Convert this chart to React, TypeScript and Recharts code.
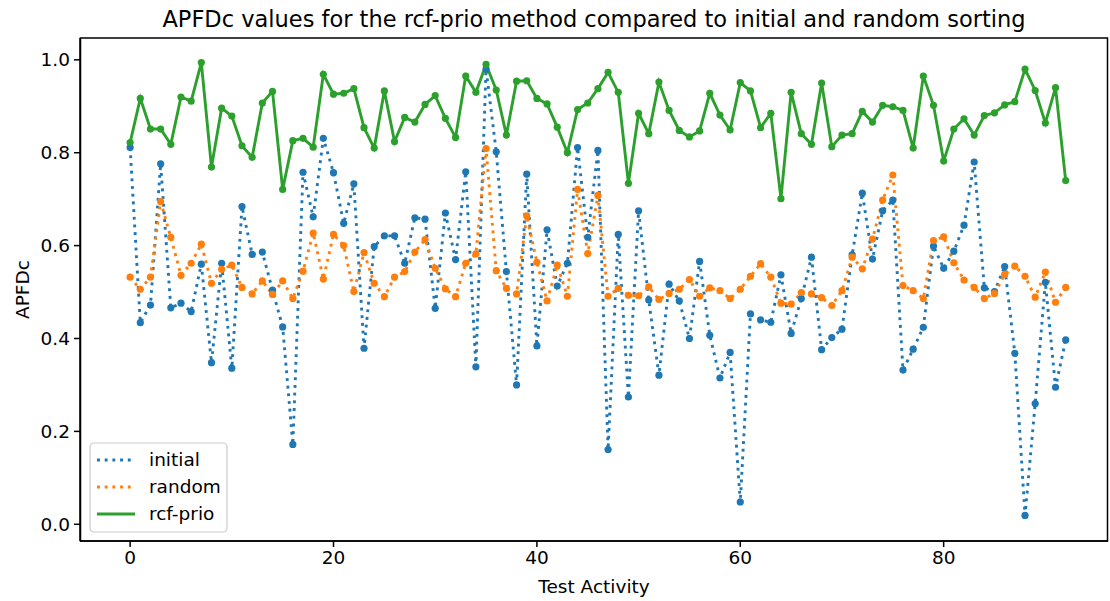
import { LineChart, Line, XAxis, YAxis, Customized } from "recharts";

// APFDc per test activity
const initial = [
  0.811, 0.434, 0.472, 0.776, 0.466, 0.476, 0.458, 0.56, 0.348, 0.562,
  0.336, 0.684, 0.581, 0.586, 0.504, 0.425, 0.172, 0.758, 0.662, 0.831,
  0.757, 0.648, 0.733, 0.379, 0.598, 0.621, 0.621, 0.562, 0.66, 0.657,
  0.465, 0.67, 0.57, 0.759, 0.339, 0.98, 0.802, 0.544, 0.3, 0.754,
  0.384, 0.634, 0.513, 0.562, 0.811, 0.618, 0.805, 0.161, 0.624, 0.274,
  0.675, 0.483, 0.321, 0.517, 0.481, 0.4, 0.566, 0.407, 0.315, 0.37,
  0.048, 0.453, 0.44, 0.435, 0.537, 0.411, 0.486, 0.575, 0.376, 0.402,
  0.42, 0.58, 0.713, 0.571, 0.675, 0.698, 0.332, 0.377, 0.424, 0.599,
  0.551, 0.588, 0.644, 0.78, 0.509, 0.501, 0.555, 0.368, 0.019, 0.26,
  0.521, 0.295, 0.397,
];

const random = [
  0.532, 0.506, 0.532, 0.695, 0.618, 0.536, 0.562, 0.603, 0.519, 0.549,
  0.558, 0.51, 0.496, 0.524, 0.495, 0.524, 0.486, 0.545, 0.627, 0.528,
  0.624, 0.6, 0.501, 0.585, 0.519, 0.49, 0.532, 0.544, 0.586, 0.613,
  0.551, 0.507, 0.49, 0.562, 0.582, 0.809, 0.546, 0.508, 0.496, 0.664,
  0.564, 0.481, 0.558, 0.491, 0.721, 0.583, 0.708, 0.491, 0.508, 0.493,
  0.492, 0.511, 0.484, 0.497, 0.506, 0.527, 0.491, 0.509, 0.503, 0.486,
  0.506, 0.534, 0.561, 0.532, 0.476, 0.474, 0.499, 0.496, 0.488, 0.471,
  0.503, 0.575, 0.55, 0.614, 0.698, 0.752, 0.514, 0.503, 0.486, 0.611,
  0.619, 0.563, 0.526, 0.51, 0.486, 0.497, 0.538, 0.556, 0.534, 0.489,
  0.543, 0.478, 0.51,
];

const rcfPrio = [
  0.822, 0.917, 0.851, 0.851, 0.818, 0.92, 0.911, 0.994, 0.769, 0.896,
  0.879, 0.815, 0.79, 0.907, 0.932, 0.721, 0.826, 0.831, 0.812, 0.969,
  0.926, 0.928, 0.938, 0.854, 0.81, 0.933, 0.824, 0.876, 0.866, 0.904,
  0.923, 0.874, 0.833, 0.965, 0.93, 0.99, 0.935, 0.838, 0.954, 0.955,
  0.917, 0.905, 0.855, 0.8, 0.893, 0.907, 0.938, 0.973, 0.93, 0.734,
  0.885, 0.841, 0.952, 0.891, 0.848, 0.834, 0.847, 0.928, 0.881, 0.849,
  0.951, 0.933, 0.854, 0.885, 0.701, 0.93, 0.841, 0.818, 0.95, 0.813,
  0.838, 0.841, 0.889, 0.866, 0.902, 0.899, 0.891, 0.81, 0.965, 0.902,
  0.782, 0.851, 0.873, 0.838, 0.88, 0.886, 0.903, 0.91, 0.98, 0.934,
  0.864, 0.94, 0.74,
];

const xTicks = [0, 20, 40, 60, 80];
const yTicks = [0, 0.2, 0.4, 0.6, 0.8, 1.0];

const BLUE = "#1f77b4";
const ORANGE = "#ff7f0e";
const GREEN = "#2ca02c";
const FONT = "'DejaVu Sans', sans-serif";
const DOTTED = "2.9 4.8";

const data = initial.map((v, i) => ({
  activity: i,
  initial: v,
  random: random[i],
  rcf: rcfPrio[i],
}));

const legendItems = [
  { label: "initial", color: BLUE, dash: DOTTED },
  { label: "random", color: ORANGE, dash: DOTTED },
  { label: "rcf-prio", color: GREEN, dash: undefined },
];

// axes frame, legend and title (matplotlib look)
function Decorations() {
  return (
    <g>
      <rect x={80.5} y={38} width={1027} height={503} fill="none" stroke="#000" strokeWidth={1.5} />
      <g transform="translate(89,442)">
        <rect x={1} y={1} width={137} height={89} rx={4} fill="#fff" fillOpacity={0.8} stroke="#cccccc" strokeWidth={1.2} />
        {legendItems.map((it, i) => (
          <g key={it.label}>
            <line
              x1={8}
              x2={46}
              y1={18 + i * 27}
              y2={18 + i * 27}
              stroke={it.color}
              strokeWidth={2.9}
              strokeDasharray={it.dash}
            />
            <text x={60} y={18 + i * 27} dy="0.35em" fontSize={18.5} fontFamily={FONT} fill="#000">
              {it.label}
            </text>
          </g>
        ))}
      </g>
      <text x={594} y={19} textAnchor="middle" dy="0.35em" fontSize={22.5} fontFamily={FONT} fill="#000">
        APFDc values for the rcf-prio method compared to initial and random sorting
      </text>
    </g>
  );
}

export default function App() {
  const tickStyle = { fontSize: 18.5, fontFamily: FONT, fill: "#000" };
  return (
    <div style={{ position: "absolute", left: 0, top: 0, background: "#fff" }}>
      <LineChart width={1110} height={601} data={data} margin={{ top: 38, right: 2, left: 0, bottom: 0 }}>
        <XAxis
          dataKey="activity"
          type="number"
          domain={[-4.93, 96.16]}
          ticks={xTicks}
          allowDataOverflow
          height={60}
          tick={tickStyle}
          tickSize={6}
          tickMargin={4}
          stroke="#000"
          strokeWidth={1.5}
          label={{ value: "Test Activity", position: "center", dy: 15, fontSize: 18.5, fontFamily: FONT, fill: "#000" }}
        />
        <YAxis
          type="number"
          domain={[-0.036, 1.047]}
          ticks={yTicks}
          allowDataOverflow
          width={80}
          tick={tickStyle}
          tickFormatter={(v: number) => v.toFixed(1)}
          tickSize={6}
          tickMargin={4}
          stroke="#000"
          strokeWidth={1.5}
          label={{ value: "APFDc", angle: -90, position: "center", dx: -18, fontSize: 18.5, fontFamily: FONT, fill: "#000" }}
        />
        <Line
          dataKey="initial"
          stroke={BLUE}
          strokeWidth={2.9}
          strokeDasharray={DOTTED}
          dot={{ r: 3.6, fill: BLUE, stroke: "none", strokeDasharray: "" }}
          isAnimationActive={false}
        />
        <Line
          dataKey="random"
          stroke={ORANGE}
          strokeWidth={2.9}
          strokeDasharray={DOTTED}
          dot={{ r: 3.6, fill: ORANGE, stroke: "none", strokeDasharray: "" }}
          isAnimationActive={false}
        />
        <Line
          dataKey="rcf"
          stroke={GREEN}
          strokeWidth={2.9}
          dot={{ r: 3.6, fill: GREEN, stroke: "none" }}
          isAnimationActive={false}
        />
        <Customized component={Decorations} />
      </LineChart>
    </div>
  );
}
